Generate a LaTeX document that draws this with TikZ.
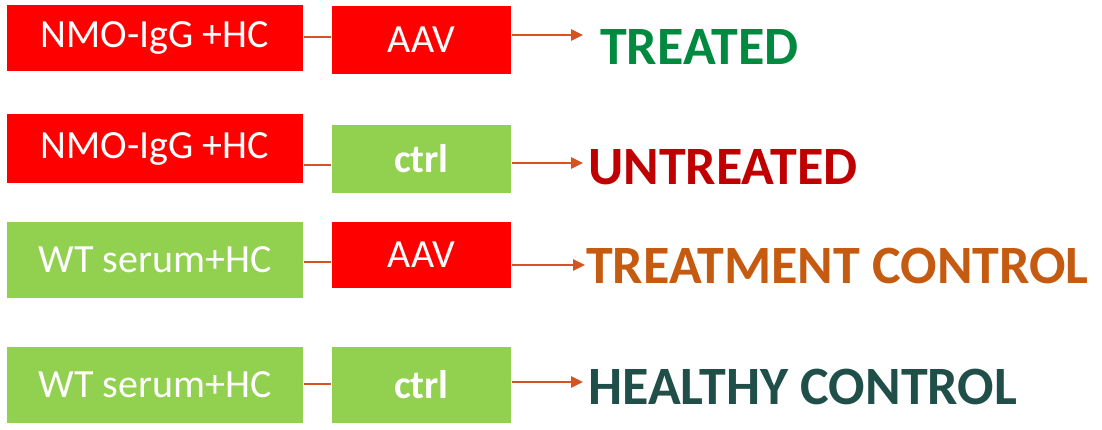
\documentclass[tikz,border=0pt]{standalone}
\usepackage{fontspec}
\setmainfont{Carlito}
\usetikzlibrary{arrows.meta}
\definecolor{boxred}{RGB}{255,0,0}
\definecolor{boxgreen}{RGB}{146,208,80}
\definecolor{lnk}{RGB}{214,82,34}
\definecolor{cgreen}{RGB}{0,138,64}
\definecolor{cred}{RGB}{192,0,0}
\definecolor{corange}{RGB}{197,90,17}
\definecolor{cteal}{RGB}{32,78,72}
\tikzset{sr/.style = {rectangle, fill=boxred, text=white, minimum width=296pt, inner sep=0pt,
                      font=\fontsize{40}{44}\selectfont},
           sg/.style = {sr, fill=boxgreen},
           tr/.style = {rectangle, fill=boxred, text=white, minimum width=179pt, inner sep=0pt,
                      font=\fontsize{40}{44}\selectfont},
           tg/.style = {tr, fill=boxgreen, font=\fontsize{40}{44}\selectfont\bfseries},
           lb/.style = {anchor=west, inner sep=0pt, font=\fontsize{54}{58}\selectfont\bfseries}}

\begin{document}
\begin{tikzpicture}[x=1pt, y=-1pt, >={Triangle[length=12pt, width=11pt]}, line width=2.5pt]
    \useasboundingbox (0,0) rectangle (1102,430);
    \node[sr, minimum height=66pt] (a1) at (155,38) {NMO-IgG +HC};
    \node[tr, minimum height=68pt] (b1) at (421.5,40) {AAV};
    \node[sr, minimum height=69pt] (a2) at (155,148.5) {NMO-IgG +HC};
    \node[tg, minimum height=68pt] (b2) at (421.5,159) {ctrl};
    \node[sg, minimum height=76pt] (a3) at (155,260) {WT serum+HC};
    \node[tr, minimum height=66pt] (b3) at (421.5,255) {AAV};
    \node[sg, minimum height=76pt] (a4) at (155,385) {WT serum+HC};
    \node[tg, minimum height=76pt] (b4) at (421.5,385) {ctrl};
    \coordinate (e1) at (583,35); \coordinate (e2) at (583,163);
    \coordinate (e3) at (585,265); \coordinate (e4) at (583,382);
    \node[lb, text=cgreen]  (l1) at (599,47)  {TREATED};
    \node[lb, text=cred]    (l2) at (587,167) {UNTREATED};
    \node[lb, text=corange] (l3) at (585,266) {TREATMENT CONTROL};
    \node[lb, text=cteal]   (l4) at (587,387) {HEALTHY CONTROL};
    \draw[lnk] (a1.east |- 0,37) -- (b1.west |- 0,37);
    \draw[lnk] (a2.east |- 0,165) -- (b2.west |- 0,165);
    \draw[lnk] (a3.east |- 0,262) -- (b3.west |- 0,262);
    \draw[lnk] (a4.east |- 0,384) -- (b4.west |- 0,384);
    \draw[->, lnk] (b1.east |- e1) -- (e1);
    \draw[->, lnk] (b2.east |- e2) -- (e2);
    \draw[->, lnk] (b3.east |- e3) -- (e3);
    \draw[->, lnk] (b4.east |- e4) -- (e4);
\end{tikzpicture}
\end{document}
